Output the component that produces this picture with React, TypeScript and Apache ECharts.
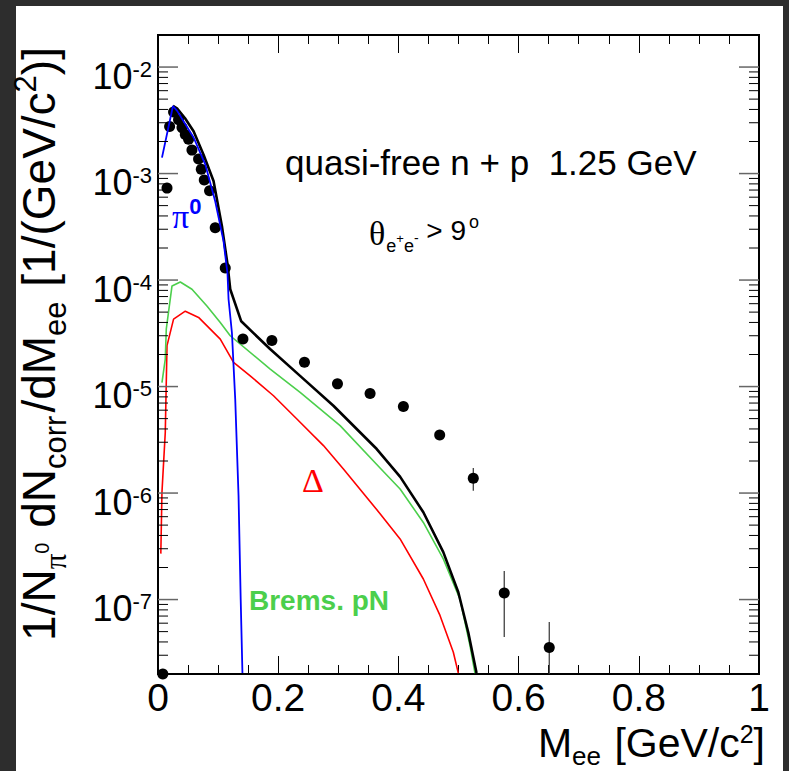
import React, { useEffect, useRef } from "react";
import * as echarts from "echarts";

// ---------- data ----------
const dataX = [0.008, 0.015, 0.0193, 0.0259, 0.0342, 0.0399, 0.0454, 0.0509, 0.0565, 0.0675, 0.072, 0.077, 0.0858, 0.0952, 0.1119, 0.1413, 0.1895, 0.2437, 0.2986, 0.3529, 0.4083, 0.4687, 0.5246, 0.5761, 0.651];
const dataY = [2.0e-8, 7.3e-4, 2.76e-3, 3.78e-3, 3.2e-3, 2.7e-3, 2.33e-3, 2.1e-3, 1.66e-3, 1.37e-3, 1.1e-3, 8.7e-4, 6.9e-4, 3.1e-4, 1.3e-4, 2.79e-5, 2.71e-5, 1.69e-5, 1.06e-5, 8.6e-6, 6.5e-6, 3.51e-6, 1.38e-6, 1.15e-7, 3.55e-8];

const errX = [0.5246, 0.5761, 0.651];
const errLow = [1.05e-6, 4.44e-8, 1.0e-8];
const errHigh = [1.72e-6, 1.85e-7, 6.14e-8];

const totalX = [0.0249, 0.0316, 0.045, 0.0592, 0.0758, 0.0924, 0.1064, 0.1157, 0.1202, 0.1385, 0.1865, 0.2364, 0.2919, 0.364, 0.403, 0.4415, 0.4747, 0.4997, 0.5163, 0.530];
const totalY = [4.31e-3, 4.1e-3, 3.3e-3, 2.5e-3, 1.5e-3, 8.5e-4, 3.2e-4, 1.4e-4, 8.2e-5, 4.1e-5, 2.25e-5, 1.26e-5, 6.6e-6, 2.59e-6, 1.42e-6, 6.6e-7, 2.79e-7, 1.17e-7, 4.9e-8, 2.04e-8];

const pi0X = [0.0066, 0.0249, 0.0316, 0.0592, 0.0786, 0.0952, 0.109, 0.1157, 0.1174, 0.123, 0.1285, 0.134, 0.1376, 0.1405];
const pi0Y = [1.41e-3, 4.31e-3, 3.9e-3, 2.18e-3, 1.22e-3, 5.5e-4, 2.33e-4, 1.14e-4, 6.6e-5, 3.2e-5, 7.6e-6, 9.5e-7, 1.0e-7, 2.04e-8];

const bremsX = [0.0066, 0.0121, 0.0138, 0.0233, 0.0371, 0.0565, 0.0814, 0.1036, 0.1202, 0.1867, 0.2365, 0.303, 0.3695, 0.4028, 0.4415, 0.4747, 0.5025, 0.5191, 0.5274];
const bremsY = [1.09e-5, 1.81e-5, 3.47e-5, 8.8e-5, 9.6e-5, 8.2e-5, 5.7e-5, 4.0e-5, 3.0e-5, 1.46e-5, 8.8e-6, 4.3e-6, 1.72e-6, 1.09e-6, 5.3e-7, 2.41e-7, 1.01e-7, 3.7e-8, 2.04e-8];

const deltaX = [0.0047, 0.0066, 0.0121, 0.015, 0.0259, 0.0454, 0.0675, 0.1036, 0.1257, 0.1534, 0.1922, 0.2311, 0.2753, 0.3085, 0.3474, 0.3695, 0.4028, 0.4415, 0.4692, 0.4914, 0.4997];
const deltaY = [2.7e-7, 1.02e-6, 3.7e-6, 2.42e-5, 4.3e-5, 5.1e-5, 4.46e-5, 2.79e-5, 1.69e-5, 1.26e-5, 8.2e-6, 4.96e-6, 2.79e-6, 1.68e-6, 9.1e-7, 6.4e-7, 3.71e-7, 1.56e-7, 7.1e-8, 3.2e-8, 2.04e-8];

const xTickLabels = ["0", "0.2", "0.4", "0.6", "0.8", "1"];
const yDecadeExponents = [-7, -6, -5, -4, -3, -2];
const yMinorMultipliers = [2, 3, 4, 5, 6, 7, 8, 9];

const Y_MIN = 2e-8;
const Y_MAX = 2e-2;

const FONT = "Liberation Sans";
const SERIF = "Liberation Serif";
const GREEN = "#4ccf4c";
const CENTRAL = 0.3465; // distance from baseline to the "central" baseline, in em

type Piece = { text: string; size: number; dy: number; family?: string; weight?: string; gap?: number; fill?: string; lh?: number };

let measureCtx: CanvasRenderingContext2D | null = null;
function measure(p: Piece) {
  if (!measureCtx) measureCtx = document.createElement("canvas").getContext("2d");
  const ctx = measureCtx!;
  ctx.font = `${p.weight || "normal"} ${p.size}px "${p.family || FONT}"`;
  return ctx.measureText(p.text).width;
}

function textEl(p: Piece, x: number, y: number, rotation = 0) {
  return {
    type: "text",
    x,
    y,
    rotation,
    silent: true,
    style: {
      text: p.text,
      fontSize: p.size,
      fontFamily: p.family || FONT,
      fontWeight: p.weight || "normal",
      fill: p.fill || "#000",
      align: "left",
      verticalAlign: "middle",
      lineHeight: p.lh || p.size,
    },
  };
}

// horizontal run of pieces; baseline at y; starts at x (or ends at x if alignRight)
function runH(pieces: Piece[], x: number, baseline: number, alignRight = false) {
  const widths = pieces.map(measure);
  const total = widths.reduce((a, w, i) => a + w + (pieces[i].gap || 0), 0);
  let cx = alignRight ? x - total : x;
  return pieces.map((p, i) => {
    const el = textEl(p, cx, baseline + p.dy - CENTRAL * p.size);
    cx += widths[i] + (p.gap || 0);
    return el;
  });
}

// vertical run (reading bottom to top), centred at centerY; baseline at screen x = baselineX
function runV(pieces: Piece[], baselineX: number, centerY: number) {
  const widths = pieces.map(measure);
  const total = widths.reduce((a, w, i) => a + w + (pieces[i].gap || 0), 0);
  let cy = centerY + total / 2;
  return pieces.map((p, i) => {
    const el = textEl(p, baselineX + p.dy - CENTRAL * p.size, cy, Math.PI / 2);
    cy -= widths[i] + (p.gap || 0);
    return el;
  });
}

function zip(xs: number[], ys: number[]) {
  return xs.map((x, i) => [x, ys[i]]);
}

export default function App() {
  const ref = useRef<HTMLDivElement>(null);

  useEffect(() => {
    if (!ref.current) return;
    const chart = echarts.init(ref.current, undefined, { renderer: "svg" });

    // y tick marks: [x, value, length, major]
    const yTicks: number[][] = [];
    yDecadeExponents.forEach((e) => yTicks.push([0, Math.pow(10, e), 20, 1]));
    [-8, ...yDecadeExponents].forEach((e) => {
      yMinorMultipliers.forEach((m) => {
        const v = m * Math.pow(10, e);
        if (v > Y_MIN * 1.0001 && v < Y_MAX * 0.9999) yTicks.push([0, v, 10, 0]);
      });
    });

    const xTickAxis = (position: "bottom" | "top", showLabel: boolean) => ({
      type: "value",
      position,
      min: 0,
      max: 1,
      interval: 0.2,
      axisLine: { show: false },
      splitLine: { show: false },
      axisTick: { show: true, inside: true, length: 18, lineStyle: { color: "#000", width: 1 } },
      minorTick: { show: true, splitNumber: 4, length: 9, lineStyle: { color: "#000", width: 1 } },
      axisLabel: {
        show: showLabel,
        fontSize: 39,
        lineHeight: 30,
        fontFamily: FONT,
        color: "#000",
        margin: 8,
        formatter: (v: number) => xTickLabels[Math.round(v / 0.2)] ?? String(v),
      },
    });

    // y-axis title (rotated), ROOT style sub/superscripts
    const yTitle: Piece[] = [
      { text: "1/N", size: 46, dy: 0 },
      { text: "π", size: 31, dy: 11, family: SERIF },
      { text: "0", size: 20, dy: -6, gap: 2 },
      { text: " dN", size: 46, dy: 0 },
      { text: "corr", size: 31, dy: 11, gap: 3 },
      { text: "/dM", size: 46, dy: 0 },
      { text: "ee", size: 31, dy: 11, gap: 2 },
      { text: " [1/(GeV/c", size: 46, dy: 0 },
      { text: "2", size: 31, dy: -19 },
      { text: ")]", size: 46, dy: 0 },
    ];

    const xTitle: Piece[] = [
      { text: "M", size: 41, dy: 0, lh: 36 },
      { text: "ee", size: 26, dy: 8, gap: 2, lh: 20 },
      { text: " [GeV/c", size: 41, dy: 0, lh: 36 },
      { text: "2", size: 25, dy: -14, lh: 16 },
      { text: "]", size: 41, dy: 0, lh: 36 },
    ];

    const thetaLine: Piece[] = [
      { text: "θ", size: 34, dy: 5, family: SERIF, gap: 1 },
      { text: "e", size: 18, dy: 12 },
      { text: "+", size: 13, dy: 3 },
      { text: "e", size: 18, dy: 12 },
      { text: "-", size: 14, dy: 3 },
      { text: " > 9", size: 28, dy: 0, gap: 3 },
      { text: "o", size: 18, dy: -12 },
    ];

    const pi0Label: Piece[] = [
      { text: "π", size: 34, dy: 0, family: SERIF, fill: "#0000ff" },
      { text: "0", size: 22, dy: -14, weight: "bold", fill: "#0000ff" },
    ];

    const option: any = {
      animation: false,
      backgroundColor: "#2d2d2d",
      grid: {
        left: 158,
        right: 30,
        top: 35,
        bottom: 97,
        show: true,
        borderColor: "#000",
        borderWidth: 2,
        backgroundColor: "#fff",
      },
      xAxis: [xTickAxis("bottom", true), xTickAxis("top", false)],
      yAxis: {
        type: "log",
        logBase: 10,
        min: Y_MIN,
        max: Y_MAX,
        axisLine: { show: false },
        axisTick: { show: false },
        splitLine: { show: false },
        axisLabel: {
          showMinLabel: false,
          showMaxLabel: false,
          margin: 6,
          padding: [18, 0, 0, 0],
          formatter: (v: number) => `{b|10}{s|${Math.round(Math.log10(v))}}`,
          rich: {
            b: { fontSize: 36, lineHeight: 36, fontFamily: FONT, color: "#000" },
            s: { fontSize: 22, lineHeight: 22, fontFamily: FONT, color: "#000", verticalAlign: "top" },
          },
        },
      },
      graphic: [
        { type: "rect", z: -10, silent: true, shape: { x: 16, y: 6, width: 767, height: 765 }, style: { fill: "#fff" } },
        ...runV(yTitle, 55, 344),
        ...runH(xTitle, 765, 757, true),
        textEl({ text: "quasi-free n + p  1.25 GeV", size: 35, dy: 0 }, 285, 175 - CENTRAL * 35),
        ...runH(thetaLine, 369, 240),
        ...runH(pi0Label, 172, 228),
        textEl({ text: "Δ", size: 34, dy: 0, family: SERIF, fill: "#ff0000" }, 302, 492 - CENTRAL * 34),
        textEl({ text: "Brems. pN", size: 28, dy: 0, weight: "bold", fill: GREEN }, 249, 610 - CENTRAL * 28),
      ],
      series: [
        {
          type: "custom",
          name: "yticks",
          silent: true,
          xAxisIndex: 0,
          yAxisIndex: 0,
          data: yTicks,
          encode: { x: 0, y: 1 },
          z: 10,
          renderItem: (params: any, api: any) => {
            const v = api.value(1);
            const len = api.value(2);
            const major = api.value(3) === 1;
            const p0 = api.coord([0, v]);
            const p1 = api.coord([1, v]);
            const style = { stroke: major ? "#666" : "#000", lineWidth: major ? 1.5 : 1 };
            return {
              type: "group",
              children: [
                { type: "line", shape: { x1: p0[0], y1: p0[1], x2: p0[0] + len, y2: p0[1] }, style },
                { type: "line", shape: { x1: p1[0] - len, y1: p1[1], x2: p1[0], y2: p1[1] }, style },
              ],
            };
          },
        },
        { type: "line", name: "Delta", data: zip(deltaX, deltaY), showSymbol: false, symbol: "none", lineStyle: { color: "#ff0000", width: 1.6 }, z: 2 },
        { type: "line", name: "Brems", data: zip(bremsX, bremsY), showSymbol: false, symbol: "none", lineStyle: { color: GREEN, width: 1.6 }, z: 2 },
        { type: "line", name: "total", data: zip(totalX, totalY), showSymbol: false, symbol: "none", lineStyle: { color: "#000", width: 2.6 }, z: 3 },
        {
          type: "custom",
          name: "errors",
          silent: true,
          clip: true,
          data: errX.map((x, i) => [x, errLow[i], errHigh[i]]),
          encode: { x: 0, y: [1, 2] },
          z: 4,
          renderItem: (params: any, api: any) => {
            const a = api.coord([api.value(0), api.value(1)]);
            const b = api.coord([api.value(0), api.value(2)]);
            return { type: "line", shape: { x1: a[0], y1: a[1], x2: b[0], y2: b[1] }, style: { stroke: "#333", lineWidth: 1.2 } };
          },
        },
        { type: "scatter", name: "data", data: zip(dataX, dataY), symbol: "circle", symbolSize: 11, itemStyle: { color: "#000", opacity: 1 }, clip: false, z: 5 },
        { type: "line", name: "pi0", data: zip(pi0X, pi0Y), showSymbol: false, symbol: "none", lineStyle: { color: "#0000ff", width: 1.8 }, z: 6 },
      ],
    };

    chart.setOption(option);
    return () => chart.dispose();
  }, []);

  return <div ref={ref} style={{ position: "absolute", left: 0, top: 0, width: 789, height: 771 }} />;
}
